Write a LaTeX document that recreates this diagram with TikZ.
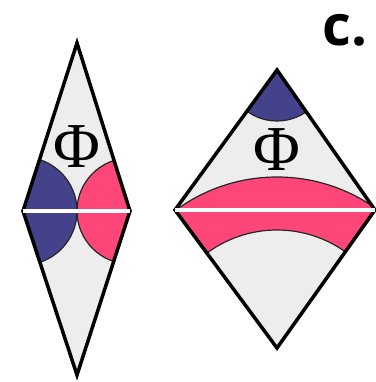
\documentclass[tikz,border=0pt]{standalone}
\usepackage{fontspec}
\usepackage{tikz}
\newfontfamily\phifont{Liberation Serif}
\newfontfamily\panelfont{Open Sans}
\definecolor{cFill}{HTML}{EDEDED}
\definecolor{cBlue}{HTML}{44428A}
\definecolor{cPink}{HTML}{FF4678}

\begin{document}
\begin{tikzpicture}[x=1pt,y=-1pt,
    rim/.style={black,line width=3.5pt,line join=miter},
    arcline/.style={black!85,line width=1.2pt},
    cut/.style={white,line width=4pt},
    phitext/.style={font=\phifont\fontsize{64}{64}\selectfont,inner sep=0pt}]
  \useasboundingbox (0,0) rectangle (375,382);
  % left diamond
  \coordinate (lt) at (77,43);  \coordinate (lb) at (77,375);
  \coordinate (ll) at (23,211); \coordinate (lr) at (130,211);
  \fill[cFill] (lt) -- (lr) -- (lb) -- (ll) -- cycle;
  \begin{scope}
    \clip (lt) -- (lr) -- (lb) -- (ll) -- cycle;
    \fill[cBlue] (ll) circle (54);
    \fill[cPink] (lr) circle (53);
    \draw[arcline] (ll) circle (54);
    \draw[arcline] (lr) circle (53);
  \end{scope}
  \draw[rim] (lt) -- (lr) -- (lb) -- (ll) -- cycle;
  \draw[cut] (ll) -- (lr);
  \node[phitext] (phiL) at (77,147) {Φ};
  % right diamond
  \coordinate (rt) at (277,70);  \coordinate (rb) at (277,348);
  \coordinate (rl) at (175,210); \coordinate (rr) at (375,210);
  \fill[cFill] (rt) -- (rr) -- (rb) -- (rl) -- cycle;
  \begin{scope}
    \clip (rt) -- (rr) -- (rb) -- (rl) -- cycle;
    \fill[cBlue] (rt) circle (51);
    \fill[cPink,even odd rule] (rb) circle (171) (rb) circle (118);
    \draw[arcline] (rt) circle (51);
    \draw[arcline] (rb) circle (171);
    \draw[arcline] (rb) circle (118);
  \end{scope}
  \draw[rim] (rt) -- (rr) -- (rb) -- (rl) -- cycle;
  \draw[cut] (rl) -- (rr);
  \node[phitext] (phiR) at (277,150) {Φ};
  \node[font=\panelfont\bfseries\fontsize{56}{56}\selectfont,inner sep=0pt] (panel) at (345,30) {c.};
\end{tikzpicture}
\end{document}
